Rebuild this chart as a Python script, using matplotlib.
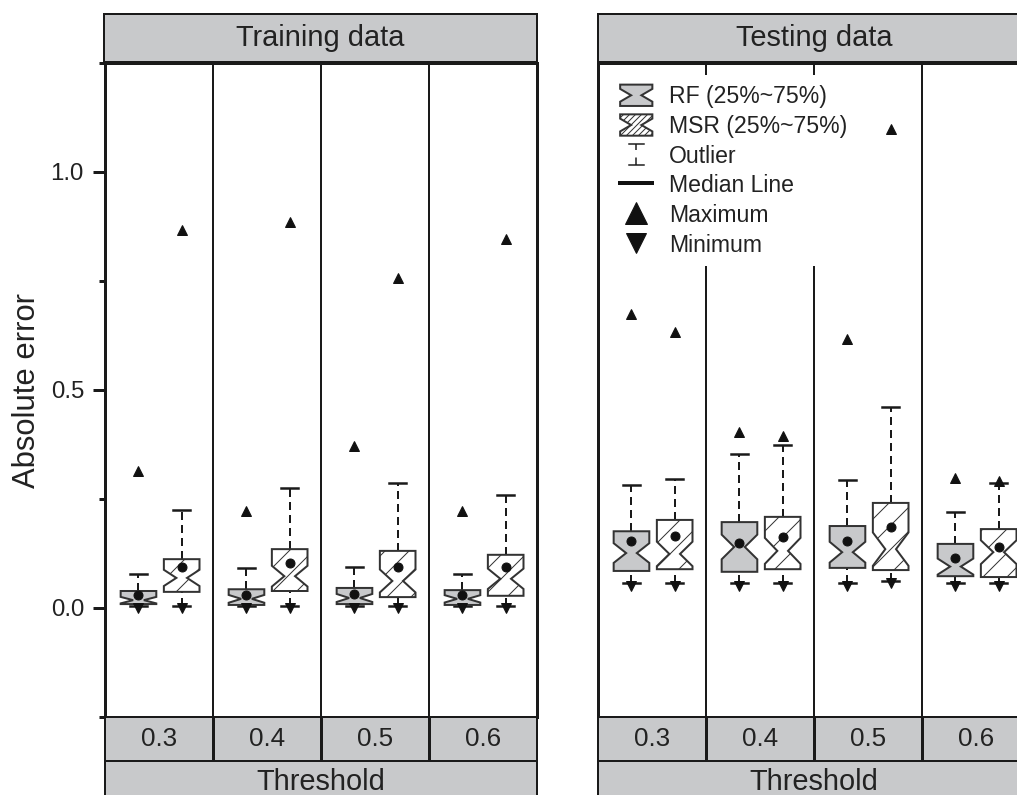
import numpy as np
import matplotlib
matplotlib.use('Agg')
import matplotlib.pyplot as plt
from matplotlib.patches import Polygon, Patch
from matplotlib.lines import Line2D
from matplotlib.legend_handler import HandlerBase

plt.rcParams['font.family'] = ['Liberation Sans', 'DejaVu Sans']
plt.rcParams['hatch.linewidth'] = 1.0

thresholds = ['0.3', '0.4', '0.5', '0.6']
n_samples = 40  # notch half height = 1.57*IQR/sqrt(n)

# training data, RF
rf_train_q1 = [0.009, 0.007, 0.009, 0.007]
rf_train_q3 = [0.039, 0.043, 0.046, 0.041]
rf_train_med = [0.018, 0.021, 0.023, 0.021]
rf_train_mean = [0.030, 0.030, 0.032, 0.030]
rf_train_whi = [0.078, 0.092, 0.094, 0.078]
rf_train_wlo = [0.004, 0.004, 0.004, 0.004]
rf_train_min = [0.0, 0.0, 0.0, 0.0]
rf_train_max = [0.314, 0.222, 0.372, 0.222]

# training data, MSR
msr_train_q1 = [0.037, 0.039, 0.025, 0.028]
msr_train_q3 = [0.112, 0.135, 0.131, 0.122]
msr_train_med = [0.069, 0.073, 0.062, 0.067]
msr_train_mean = [0.094, 0.103, 0.094, 0.094]
msr_train_whi = [0.225, 0.275, 0.287, 0.259]
msr_train_wlo = [0.004, 0.004, 0.004, 0.004]
msr_train_min = [0.0, 0.0, 0.0, 0.0]
msr_train_max = [0.867, 0.885, 0.757, 0.846]

# testing data, RF
rf_test_q1 = [0.085, 0.083, 0.092, 0.073]
rf_test_q3 = [0.176, 0.197, 0.188, 0.147]
rf_test_med = [0.126, 0.140, 0.128, 0.095]
rf_test_mean = [0.154, 0.149, 0.154, 0.115]
rf_test_whi = [0.282, 0.353, 0.294, 0.220]
rf_test_wlo = [0.057, 0.057, 0.057, 0.057]
rf_test_min = [0.050, 0.050, 0.050, 0.050]
rf_test_max = [0.674, 0.404, 0.617, 0.298]

# testing data, MSR
msr_test_q1 = [0.089, 0.089, 0.087, 0.071]
msr_test_q3 = [0.202, 0.209, 0.241, 0.181]
msr_test_med = [0.124, 0.131, 0.135, 0.128]
msr_test_mean = [0.165, 0.163, 0.186, 0.140]
msr_test_whi = [0.296, 0.374, 0.461, 0.287]
msr_test_wlo = [0.057, 0.057, 0.062, 0.057]
msr_test_min = [0.050, 0.050, 0.057, 0.050]
msr_test_max = [0.633, 0.394, 1.099, 0.291]

GRAY = '#c8c9cb'
EDGE = '#333333'
DARK = '#1a1a1a'

W, H = 1017, 795
fig = plt.figure(figsize=(W / 72, H / 72), dpi=72)


def px_axes(x0, y0, x1, y1):
    return fig.add_axes([x0 / W, 1 - y1 / H, (x1 - x0) / W, (y1 - y0) / H])


def notched_box(ax, x, q1, q3, med, w, **kw):
    half = w / 2
    nh = 1.57 * (q3 - q1) / np.sqrt(n_samples)
    lo = max(med - nh, q1)
    hi = min(med + nh, q3)
    inner = half * 0.3
    verts = [(x - half, q1), (x + half, q1), (x + half, lo), (x + inner, med),
             (x + half, hi), (x + half, q3), (x - half, q3), (x - half, hi),
             (x - inner, med), (x - half, lo)]
    ax.add_patch(Polygon(verts, closed=True, **kw))


def draw_group(ax, offset, q1, q3, med, mean, whi, wlo, mn, mx, face, hatch):
    bw = 0.33
    cw = 0.16
    for i in range(len(q1)):
        x = i + 0.5 + offset
        ax.plot([x, x], [q3[i], whi[i]], color=DARK, lw=2, ls=(0, (4, 2.5)), zorder=2)
        ax.plot([x, x], [wlo[i], q1[i]], color=DARK, lw=2, ls=(0, (4, 2.5)), zorder=2)
        ax.plot([x - cw / 2, x + cw / 2], [whi[i], whi[i]], color=DARK, lw=2.5, zorder=2)
        ax.plot([x - cw / 2, x + cw / 2], [wlo[i], wlo[i]], color=DARK, lw=2.5, zorder=2)
        notched_box(ax, x, q1[i], q3[i], med[i], bw, facecolor=face, edgecolor=EDGE,
                    hatch=hatch, lw=2, zorder=3)
        ax.plot(x, mean[i], 'o', ms=9, color='#111111', zorder=4)
        ax.plot(x, mx[i], '^', ms=10, color='#111111', zorder=4)
        ax.plot(x, mn[i], 'v', ms=10, color='#111111', zorder=4)


def setup_main(ax):
    ax.set_xlim(0, 4)
    ax.set_ylim(-0.25, 1.25)
    ax.set_xticks([])
    for s in ['left', 'right', 'top']:
        ax.spines[s].set_linewidth(3)
        ax.spines[s].set_color(DARK)
    ax.spines['bottom'].set_visible(False)
    for b in [1, 2, 3]:
        ax.axvline(b, color=DARK, lw=2, zorder=1)


def strip(x0, y0, x1, y1, text, fs, ypos=0.5, va='center', cells=None):
    s = px_axes(x0, y0, x1, y1)
    s.set_facecolor(GRAY)
    s.set_xticks([])
    s.set_yticks([])
    for sp in s.spines.values():
        sp.set_linewidth(2)
        sp.set_color(DARK)
    if cells is None:
        s.text(0.5, ypos, text, transform=s.transAxes, ha='center', va=va,
               fontsize=fs, color='#222222')
    else:
        s.set_xlim(0, len(cells))
        s.set_ylim(0, 1)
        for b in range(1, len(cells)):
            s.axvline(b, color=DARK, lw=3)
        for i, c in enumerate(cells):
            s.text(i + 0.5, 0.5, c, ha='center', va='center', fontsize=fs, color='#222222')
    return s


# panels
ax1 = px_axes(105, 63, 537, 717)
ax2 = px_axes(598, 63, 1030, 717)
setup_main(ax1)
setup_main(ax2)

draw_group(ax1, -0.19, rf_train_q1, rf_train_q3, rf_train_med, rf_train_mean,
           rf_train_whi, rf_train_wlo, rf_train_min, rf_train_max, GRAY, None)
draw_group(ax1, 0.21, msr_train_q1, msr_train_q3, msr_train_med, msr_train_mean,
           msr_train_whi, msr_train_wlo, msr_train_min, msr_train_max, 'white', '/')
draw_group(ax2, -0.19, rf_test_q1, rf_test_q3, rf_test_med, rf_test_mean,
           rf_test_whi, rf_test_wlo, rf_test_min, rf_test_max, GRAY, None)
draw_group(ax2, 0.21, msr_test_q1, msr_test_q3, msr_test_med, msr_test_mean,
           msr_test_whi, msr_test_wlo, msr_test_min, msr_test_max, 'white', '/')

ax1.set_yticks([0, 0.5, 1.0])
ax1.set_yticklabels(['0.0', '0.5', '1.0'])
ax1.set_yticks([-0.25, 0.25, 0.75, 1.25], minor=True)
ax1.tick_params(axis='y', which='major', direction='out', length=12, width=3,
                labelsize=24, pad=9, color=DARK, labelcolor='#222222')
ax1.tick_params(axis='y', which='minor', direction='out', length=6, width=3, color=DARK)
ax1.set_ylabel('Absolute error', fontsize=31, color='#222222', labelpad=9)
ax2.set_yticks([])

# strips
strip(104, 14, 537, 62, 'Training data', 29)
strip(598, 14, 1030, 62, 'Testing data', 29)
strip(105, 717, 537, 761, None, 26, cells=thresholds)
strip(598, 717, 1030, 761, None, 26, cells=thresholds)
strip(105, 761, 537, 812, 'Threshold', 29, ypos=0.43, va='baseline')
strip(598, 761, 1030, 812, 'Threshold', 29, ypos=0.43, va='baseline')


# legend
class BowtieHandler(HandlerBase):
    def create_artists(self, legend, orig_handle, xdescent, ydescent, width, height,
                       fontsize, trans):
        x0, y0, w, h = -xdescent, -ydescent, width, height
        verts = [(x0, y0), (x0 + w, y0), (x0 + w, y0 + 0.2 * h), (x0 + 0.66 * w, y0 + 0.5 * h),
                 (x0 + w, y0 + 0.8 * h), (x0 + w, y0 + h), (x0, y0 + h), (x0, y0 + 0.8 * h),
                 (x0 + 0.34 * w, y0 + 0.5 * h), (x0, y0 + 0.2 * h)]
        p = Polygon(verts, closed=True, facecolor=orig_handle.get_facecolor(),
                    edgecolor=EDGE, hatch=orig_handle.get_hatch(), lw=2, transform=trans)
        return [p]


class WhiskerHandler(HandlerBase):
    def create_artists(self, legend, orig_handle, xdescent, ydescent, width, height,
                       fontsize, trans):
        x0, y0, w, h = -xdescent, -ydescent, width, height
        xc = x0 + w / 2
        cw = 0.24 * w
        stem = Line2D([xc, xc], [y0, y0 + h], color=DARK, lw=1.5, ls=(0, (5, 5)),
                      transform=trans)
        top = Line2D([xc - cw, xc + cw], [y0 + h, y0 + h], color=DARK, lw=1.5, transform=trans)
        bot = Line2D([xc - cw, xc + cw], [y0, y0], color=DARK, lw=1.5, transform=trans)
        return [stem, top, bot]


rf_h = Patch(facecolor=GRAY, edgecolor=EDGE)
msr_h = Patch(facecolor='white', edgecolor=EDGE, hatch='////')
out_h = Line2D([], [], color=DARK)
med_h = Line2D([], [], color='#111111', lw=4)
max_h = Line2D([], [], marker='^', ms=22, ls='none', color='#111111')
min_h = Line2D([], [], marker='v', ms=20, ls='none', color='#111111')

leg = ax2.legend([rf_h, msr_h, out_h, med_h, max_h, min_h],
                 ['RF (25%~75%)', 'MSR (25%~75%)', 'Outlier', 'Median Line',
                  'Maximum', 'Minimum'],
                 handler_map={rf_h: BowtieHandler(), msr_h: BowtieHandler(),
                              out_h: WhiskerHandler()},
                 loc='upper left', bbox_to_anchor=(0.030, 0.981), borderaxespad=0,
                 borderpad=0.4, fontsize=23, handlelength=1.4, handleheight=1.05,
                 handletextpad=0.72, labelspacing=0.27, frameon=True, fancybox=False,
                 facecolor='white', edgecolor='none', framealpha=1)
for t in leg.get_texts():
    t.set_color('#222222')
leg.set_zorder(10)

fig.savefig('out.png', dpi=72)
